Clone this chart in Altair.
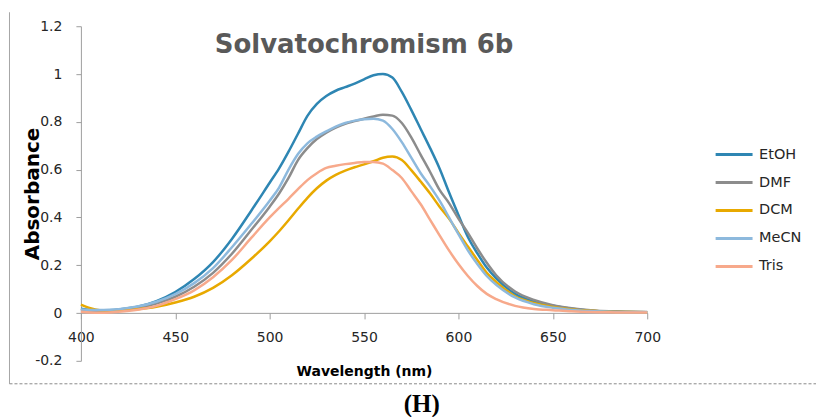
import altair as alt
import pandas as pd

wavelength = [400, 405, 410, 415, 420, 430, 440, 450, 460, 470, 480, 490, 500, 505, 510,
              515, 520, 525, 530, 535, 540, 545, 550, 555, 560, 565, 570, 575, 580, 585,
              590, 595, 600, 605, 610, 615, 620, 630, 640, 650, 660, 670, 680, 690, 700]

etoh = [0.018, 0.013, 0.011, 0.012, 0.015, 0.026, 0.050, 0.088, 0.142, 0.213, 0.310, 0.425, 0.545, 0.605, 0.675,
        0.750, 0.825, 0.875, 0.908, 0.930, 0.945, 0.960, 0.978, 0.995, 1.000, 0.985, 0.925, 0.850, 0.770, 0.690,
        0.605, 0.505, 0.410, 0.318, 0.250, 0.190, 0.145, 0.080, 0.047, 0.030, 0.018, 0.010, 0.006, 0.004, 0.003]

dmf = [0.010, 0.010, 0.010, 0.011, 0.013, 0.022, 0.040, 0.068, 0.110, 0.168, 0.248, 0.345, 0.445, 0.500, 0.565,
       0.640, 0.690, 0.728, 0.755, 0.776, 0.792, 0.803, 0.813, 0.822, 0.830, 0.826, 0.795, 0.735, 0.662, 0.590,
       0.515, 0.460, 0.395, 0.335, 0.270, 0.210, 0.158, 0.090, 0.055, 0.033, 0.020, 0.012, 0.007, 0.005, 0.004]

dcm = [0.035, 0.020, 0.012, 0.010, 0.011, 0.016, 0.026, 0.044, 0.068, 0.105, 0.158, 0.225, 0.300, 0.342, 0.388,
       0.436, 0.482, 0.522, 0.554, 0.578, 0.596, 0.610, 0.622, 0.635, 0.650, 0.655, 0.640, 0.598, 0.550, 0.500,
       0.445, 0.395, 0.335, 0.278, 0.222, 0.168, 0.130, 0.070, 0.042, 0.025, 0.015, 0.009, 0.005, 0.004, 0.003]

mecn = [0.015, 0.013, 0.013, 0.014, 0.016, 0.027, 0.047, 0.079, 0.125, 0.188, 0.275, 0.370, 0.470, 0.525, 0.600,
        0.665, 0.710, 0.738, 0.760, 0.780, 0.795, 0.805, 0.811, 0.813, 0.805, 0.770, 0.715, 0.650, 0.585, 0.530,
        0.470, 0.400, 0.330, 0.262, 0.205, 0.155, 0.118, 0.065, 0.037, 0.022, 0.013, 0.008, 0.005, 0.003, 0.003]

tris = [0.005, 0.002, 0.001, 0.002, 0.005, 0.014, 0.030, 0.058, 0.095, 0.150, 0.222, 0.312, 0.400, 0.440, 0.478,
        0.518, 0.556, 0.585, 0.607, 0.616, 0.623, 0.628, 0.632, 0.632, 0.625, 0.598, 0.565, 0.510, 0.455, 0.390,
        0.325, 0.262, 0.205, 0.155, 0.113, 0.080, 0.058, 0.030, 0.017, 0.012, 0.007, 0.004, 0.003, 0.002, 0.002]

solvents = ["EtOH", "DMF", "DCM", "MeCN", "Tris"]
colors = ["#2E86B3", "#8C8C8C", "#E8A900", "#8DB9DD", "#F7A98B"]
series = [etoh, dmf, dcm, mecn, tris]

x_ticks = [400, 450, 500, 550, 600, 650, 700]
y_ticks = [-0.2, 0, 0.2, 0.4, 0.6, 0.8, 1, 1.2]
y_labels_expr = ("datum.value == 0 ? '0' : datum.value == 1 ? '1' : "
                 "datum.value < 0 ? '-' + format(-datum.value, '.1f') : format(datum.value, '.1f')")

rows = []
for name, vals in zip(solvents, series):
    for w, v in zip(wavelength, vals):
        rows.append({"wl": w, "abs": v, "solvent": name})
df = pd.DataFrame(rows)

axis_color = "#9E9E9E"
label_color = "#262626"

lines = alt.Chart(df).mark_line(strokeWidth=2.5, interpolate="monotone").encode(
    x=alt.X("wl:Q",
            scale=alt.Scale(domain=[400, 700], nice=False, zero=False),
            axis=alt.Axis(values=x_ticks, title="Wavelength (nm)", offset=-48,
                          grid=False, domainColor=axis_color, tickColor=axis_color,
                          tickSize=6, labelPadding=12, labelFont="DejaVu Sans",
                          labelFontSize=14, labelColor=label_color, labelFlush=False,
                          titleFont="DejaVu Sans", titleFontSize=14, titleFontWeight="bold",
                          titleColor="black", titleY=63, titleBaseline="alphabetic")),
    y=alt.Y("abs:Q",
            scale=alt.Scale(domain=[-0.2, 1.2], nice=False),
            axis=alt.Axis(values=y_ticks, title="Absorbance", labelExpr=y_labels_expr,
                          grid=False, domainColor=axis_color, tickColor=axis_color,
                          tickSize=5, labelPadding=14, labelFont="DejaVu Sans",
                          labelFontSize=14, labelColor=label_color, labelFlush=False,
                          titleFont="DejaVu Sans", titleFontSize=20, titleFontWeight="bold",
                          titleColor="black", titleAngle=270, titleX=-42, titleY=167.5,
                          titleBaseline="alphabetic", titleAlign="center")),
    color=alt.Color("solvent:N", sort=solvents,
                    scale=alt.Scale(domain=solvents, range=colors),
                    legend=alt.Legend(title=None, orient="none", legendX=626.5, legendY=119.5,
                                      symbolType="M0,0H4.93", symbolSize=225,
                                      symbolStrokeWidth=3, labelOffset=34.5,
                                      rowPadding=12, padding=0,
                                      labelFont="DejaVu Sans", labelFontSize=14.5,
                                      labelColor=label_color)),
    order=alt.Order("wl:Q"),
)

frame_data = alt.Data(values=[{"k": 0}])
left_frame = alt.Chart(frame_data).mark_rule(color="#A6A6A6", strokeWidth=1).encode(
    x=alt.value(-71.5), y=alt.value(-14), y2=alt.value(358)
)
bottom_frame = alt.Chart(frame_data).mark_rule(color="#8A8A8A", strokeWidth=1, strokeDash=[3, 2]).encode(
    x=alt.value(-71.5), x2=alt.value(736), y=alt.value(358)
)

inner = alt.layer(lines, left_frame, bottom_frame).properties(
    width=567, height=335,
    title=alt.TitleParams("Solvatochromism 6b", anchor="middle", font="DejaVu Sans",
                          fontSize=26, fontWeight="bold", color="#595959",
                          offset=-67, baseline="alphabetic"),
)

chart = alt.vconcat(inner).properties(
    title=alt.TitleParams("(H)", orient="bottom", anchor="middle", font="Liberation Serif",
                          fontSize=25, fontWeight="bold", color="black", offset=8, dx=9),
    padding={"left": 9, "top": 11, "right": 0, "bottom": 0},
    background="white",
).resolve_scale(color="independent").configure_view(strokeWidth=0, stroke="transparent")

chart.save("out.html", embed_options={"renderer": "svg", "actions": False})
